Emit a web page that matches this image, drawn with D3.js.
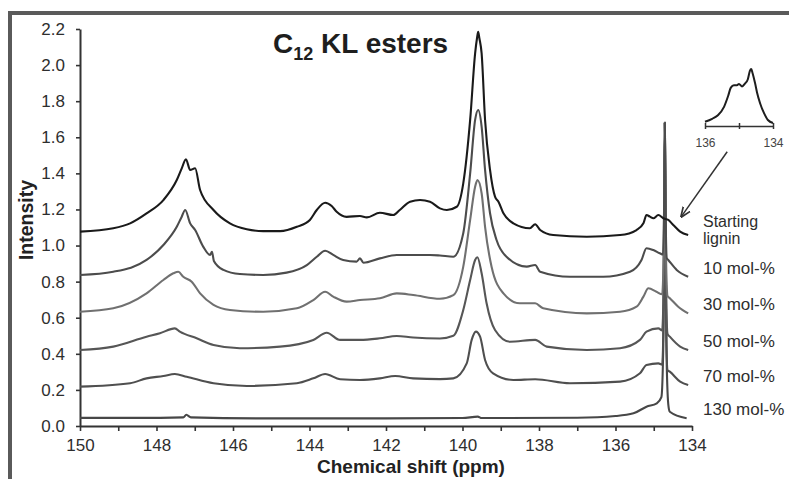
<!DOCTYPE html>
<html>
<head>
<meta charset="utf-8">
<script src="https://cdn.jsdelivr.net/npm/d3@7"></script>
<style>
  body { margin: 0; background: #fff; }
  svg { display: block; font-family: "Liberation Sans", Arial, sans-serif; }
</style>
</head>
<body>
<div id="chart"></div>
<script>
// ---- data ----
const ppmTicks = [150, 148, 146, 144, 142, 140, 138, 136, 134];
const intensityTicks = [0, 0.2, 0.4, 0.6, 0.8, 1.0, 1.2, 1.4, 1.6, 1.8, 2.0, 2.2];
const seriesNames = ["Starting lignin", "10 mol-%", "30 mol-%", "50 mol-%", "70 mol-%", "130 mol-%"];

// [ppm, intensity]
const startingLignin = [[150,1.077],[149.13,1.096],[148.69,1.123],[148.26,1.178],[147.82,1.252],[147.47,1.363],[147.34,1.428],[147.23,1.478],[147.12,1.419],[146.99,1.428],[146.86,1.308],[146.51,1.197],[146.08,1.123],[145.64,1.090],[145.21,1.080],[144.77,1.080],[144.33,1.104],[143.99,1.142],[143.81,1.197],[143.59,1.237],[143.42,1.219],[143.29,1.187],[143.03,1.159],[142.68,1.164],[142.50,1.156],[142.16,1.182],[141.81,1.169],[141.64,1.197],[141.37,1.243],[141.11,1.252],[140.85,1.243],[140.59,1.206],[140.41,1.197],[140.15,1.215],[139.98,1.345],[139.80,1.696],[139.67,2.065],[139.62,2.15],[139.59,2.185],[139.56,2.15],[139.50,2.065],[139.41,1.696],[139.28,1.419],[139.15,1.271],[139.06,1.243],[138.93,1.179],[138.67,1.123],[138.24,1.096],[138.10,1.118],[137.97,1.086],[137.63,1.058],[136.75,1.049],[135.88,1.058],[135.45,1.086],[135.27,1.123],[135.19,1.169],[135.10,1.160],[135.01,1.151],[134.88,1.169],[134.75,1.151],[134.62,1.142],[134.49,1.114],[134.31,1.077],[134.10,1.058]];

const mol10 = [[150,0.837],[149.13,0.855],[148.26,0.920],[147.82,1.003],[147.47,1.104],[147.34,1.160],[147.25,1.197],[147.12,1.123],[146.99,1.086],[146.78,0.994],[146.60,0.948],[146.55,0.965],[146.50,0.915],[146.25,0.865],[145.82,0.842],[145.21,0.837],[144.60,0.850],[144.07,0.892],[143.81,0.938],[143.59,0.971],[143.38,0.948],[143.12,0.920],[142.77,0.911],[142.68,0.929],[142.59,0.905],[142.16,0.929],[141.72,0.948],[141.29,0.948],[140.85,0.948],[140.59,0.945],[140.24,0.938],[139.98,1.068],[139.80,1.400],[139.67,1.696],[139.59,1.751],[139.50,1.659],[139.41,1.419],[139.28,1.179],[139.11,1.031],[138.85,0.938],[138.32,0.883],[138.10,0.892],[137.97,0.855],[137.19,0.827],[136.32,0.827],[135.62,0.855],[135.32,0.920],[135.19,0.985],[135.01,0.975],[134.84,0.957],[134.76,0.95],[134.73,1.2],[134.71,1.68],[134.69,1.2],[134.66,0.93],[134.62,0.920],[134.40,0.865],[134.10,0.827]];

const mol30 = [[150,0.633],[149.13,0.652],[148.26,0.735],[147.82,0.809],[147.56,0.846],[147.43,0.855],[147.30,0.827],[147.08,0.800],[146.86,0.735],[146.51,0.671],[146.08,0.643],[145.21,0.633],[144.33,0.652],[143.90,0.698],[143.59,0.744],[143.38,0.717],[143.03,0.689],[142.68,0.698],[142.16,0.708],[141.72,0.735],[141.29,0.726],[140.59,0.705],[140.24,0.725],[139.98,0.883],[139.80,1.142],[139.67,1.326],[139.61,1.363],[139.50,1.290],[139.41,1.104],[139.24,0.883],[138.93,0.735],[138.50,0.680],[138.10,0.680],[137.89,0.652],[136.75,0.624],[135.88,0.633],[135.45,0.661],[135.27,0.717],[135.14,0.763],[134.93,0.744],[134.78,0.73],[134.74,0.95],[134.71,1.68],[134.68,0.95],[134.64,0.72],[134.58,0.708],[134.36,0.661],[134.10,0.624]];

const mol50 = [[150,0.421],[149.13,0.440],[148.26,0.495],[147.91,0.514],[147.52,0.541],[147.39,0.523],[146.95,0.486],[146.51,0.449],[145.82,0.431],[144.77,0.440],[143.90,0.477],[143.55,0.517],[143.20,0.477],[142.68,0.477],[142.16,0.486],[141.72,0.499],[141.29,0.490],[140.59,0.485],[140.24,0.50],[139.98,0.643],[139.80,0.809],[139.67,0.920],[139.61,0.935],[139.50,0.846],[139.37,0.680],[139.15,0.532],[138.76,0.467],[138.10,0.477],[137.80,0.440],[136.75,0.421],[135.88,0.431],[135.36,0.477],[135.19,0.523],[134.88,0.541],[134.78,0.53],[134.74,0.8],[134.71,1.68],[134.68,0.8],[134.64,0.51],[134.58,0.495],[134.31,0.440],[134.10,0.421]];

const mol70 = [[150,0.218],[148.69,0.237],[148.26,0.264],[147.82,0.277],[147.52,0.288],[147.21,0.273],[146.51,0.237],[145.64,0.222],[144.33,0.237],[143.90,0.264],[143.59,0.288],[143.20,0.259],[142.68,0.255],[142.16,0.264],[141.76,0.277],[141.29,0.264],[140.59,0.260],[140.24,0.264],[139.89,0.347],[139.76,0.477],[139.65,0.523],[139.54,0.495],[139.41,0.366],[139.20,0.292],[138.67,0.255],[138.10,0.259],[137.19,0.237],[135.88,0.246],[135.36,0.292],[135.19,0.338],[134.88,0.347],[134.78,0.34],[134.74,0.65],[134.71,1.68],[134.68,0.65],[134.64,0.31],[134.58,0.301],[134.31,0.246],[134.10,0.227]];

const mol130 = [[150,0.045],[148.5,0.045],[147.3,0.048],[147.22,0.062],[147.1,0.048],[145,0.042],[142,0.042],[140,0.044],[139.6,0.052],[139.5,0.044],[137,0.046],[136,0.055],[135.53,0.07],[135.19,0.107],[134.92,0.126],[134.80,0.16],[134.75,0.45],[134.71,1.68],[134.67,0.45],[134.62,0.12],[134.58,0.079],[134.14,0.043]];

// inset: starting lignin, 136-134 ppm (relative intensity)
const insetTicks = [136, 135, 134];
const insetCurve = [[136.0,0.07],[135.79,0.12],[135.62,0.18],[135.44,0.32],[135.32,0.50],[135.24,0.64],[135.15,0.68],[135.06,0.68],[135.0,0.70],[134.91,0.66],[134.82,0.71],[134.74,0.78],[134.68,0.92],[134.64,0.95],[134.60,0.88],[134.53,0.72],[134.47,0.56],[134.38,0.38],[134.26,0.21],[134.15,0.10],[134.0,0.05]];

const allSeries = [startingLignin, mol10, mol30, mol50, mol70, mol130];

// ---- layout ----
const margin = { top: 29, right: 97, bottom: 53, left: 80 },
  width = 789 - margin.left - margin.right,
  height = 479 - margin.top - margin.bottom;

const svg = d3.select("#chart")
  .append("svg")
  .attr("width", 789)
  .attr("height", 479);

// figure frame (thick grey bars top and left)
svg.append("rect").attr("x", 8).attr("y", 11).attr("width", 781).attr("height", 4).attr("fill", "#5a5a5a");
svg.append("rect").attr("x", 8).attr("y", 11).attr("width", 4).attr("height", 468).attr("fill", "#5a5a5a");

const g = svg.append("g")
  .attr("transform", `translate(${margin.left},${margin.top})`);

const x = d3.scaleLinear().domain([150, 134]).range([0, width]);
const y = d3.scaleLinear().domain([0, 2.2]).range([height, 0]);

// axes
const xAxis = g.append("g")
  .attr("transform", `translate(0,${height})`)
  .call(d3.axisBottom(x)
    .tickValues(d3.range(150, 133, -1))
    .tickFormat(d => ppmTicks.includes(d) ? d : "")
    .tickSize(5).tickSizeOuter(0).tickPadding(8));

const yAxis = g.append("g")
  .call(d3.axisLeft(y)
    .tickValues(intensityTicks)
    .tickFormat(d3.format(".1f"))
    .tickSize(4).tickSizeOuter(0).tickPadding(11));

[xAxis, yAxis].forEach(a => {
  a.select(".domain").attr("stroke", "#333").attr("stroke-width", 2);
  a.selectAll(".tick line").attr("stroke", "#333").attr("stroke-width", 1.6);
  a.selectAll(".tick text").attr("fill", "#2e2e2e").style("font-size", "17px");
});

// axis titles
svg.append("text")
  .attr("x", 411).attr("y", 473)
  .attr("text-anchor", "middle")
  .style("font-size", "19px").style("font-weight", "bold").attr("fill", "#222")
  .text("Chemical shift (ppm)");

svg.append("text")
  .attr("transform", "translate(33,220) rotate(-90)")
  .attr("text-anchor", "middle")
  .style("font-size", "19.5px").style("font-weight", "bold").attr("fill", "#222")
  .text("Intensity");

// title
const title = svg.append("text")
  .attr("x", 273).attr("y", 53)
  .style("font-weight", "bold").attr("fill", "#1e1e1e");
title.append("tspan").style("font-size", "28px").text("C");
title.append("tspan").style("font-size", "18px").attr("dy", 7).text("12");
title.append("tspan").style("font-size", "28px").attr("dy", -7).text(" KL esters");

// spectra
const seriesColors = ["#1a1a1a", "#4c4c4c", "#707070", "#565656", "#4f4f4f", "#474747"];
const line = d3.line()
  .x(d => x(d[0]))
  .y(d => y(d[1]))
  .curve(d3.curveMonotoneX);

g.selectAll("path.spectrum")
  .data(allSeries.map((s, i) => ({ s, i })).reverse())
  .enter()
  .append("path")
  .attr("class", "spectrum")
  .attr("fill", "none")
  .attr("stroke", d => seriesColors[d.i])
  .attr("stroke-width", 2.1)
  .attr("stroke-linejoin", "round")
  .attr("d", d => line(d.s));

// series labels at right
const labelX = 703 - margin.left;
allSeries.forEach((s, i) => {
  const yEnd = y(s[s.length - 1][1]);
  const t = g.append("text")
    .attr("x", labelX)
    .attr("fill", "#2e2e2e")
    .style("font-size", i === 0 ? "16px" : "17px");
  if (i === 0) {
    t.attr("y", yEnd - 8);
    t.append("tspan").attr("x", labelX).text("Starting");
    t.append("tspan").attr("x", labelX).attr("dy", 17).text("lignin");
  } else {
    t.attr("y", yEnd - 3).text(seriesNames[i]);
  }
});

// inset
const ix = d3.scaleLinear().domain([136, 134]).range([705, 773]);
const iy = d3.scaleLinear().domain([0, 1]).range([126, 66]);
const inset = svg.append("g");
inset.append("g")
  .attr("transform", "translate(0,126)")
  .call(d3.axisBottom(ix).tickValues(insetTicks)
    .tickFormat(d => d === 135 ? "" : d)
    .tickSize(3).tickSizeOuter(0).tickPadding(9))
  .call(a => {
    a.select(".domain").attr("stroke", "#333").attr("stroke-width", 1.6);
    a.selectAll(".tick line").attr("stroke", "#333").attr("stroke-width", 1.5).attr("y1", -3);
    a.selectAll(".tick text").attr("fill", "#444").style("font-size", "12px");
  });
inset.append("path")
  .attr("fill", "none").attr("stroke", "#1e1e1e").attr("stroke-width", 2)
  .attr("d", d3.line().x(d => ix(d[0])).y(d => iy(d[1])).curve(d3.curveMonotoneX)(insetCurve));

// arrow from inset to starting lignin trace
svg.append("defs").append("marker")
  .attr("id", "arrowhead")
  .attr("viewBox", "0 0 10 10").attr("refX", 9).attr("refY", 5)
  .attr("markerWidth", 7).attr("markerHeight", 7)
  .attr("orient", "auto")
  .append("path").attr("d", "M0,1 L10,5 L0,9").attr("fill", "none").attr("stroke", "#333").attr("stroke-width", 1.6);

svg.append("line")
  .attr("x1", margin.left + x(133.08)).attr("y1", margin.top + y(1.52))
  .attr("x2", margin.left + x(134.28)).attr("y2", margin.top + y(1.16))
  .attr("stroke", "#333").attr("stroke-width", 1.5)
  .attr("marker-end", "url(#arrowhead)");
</script>
</body>
</html>
